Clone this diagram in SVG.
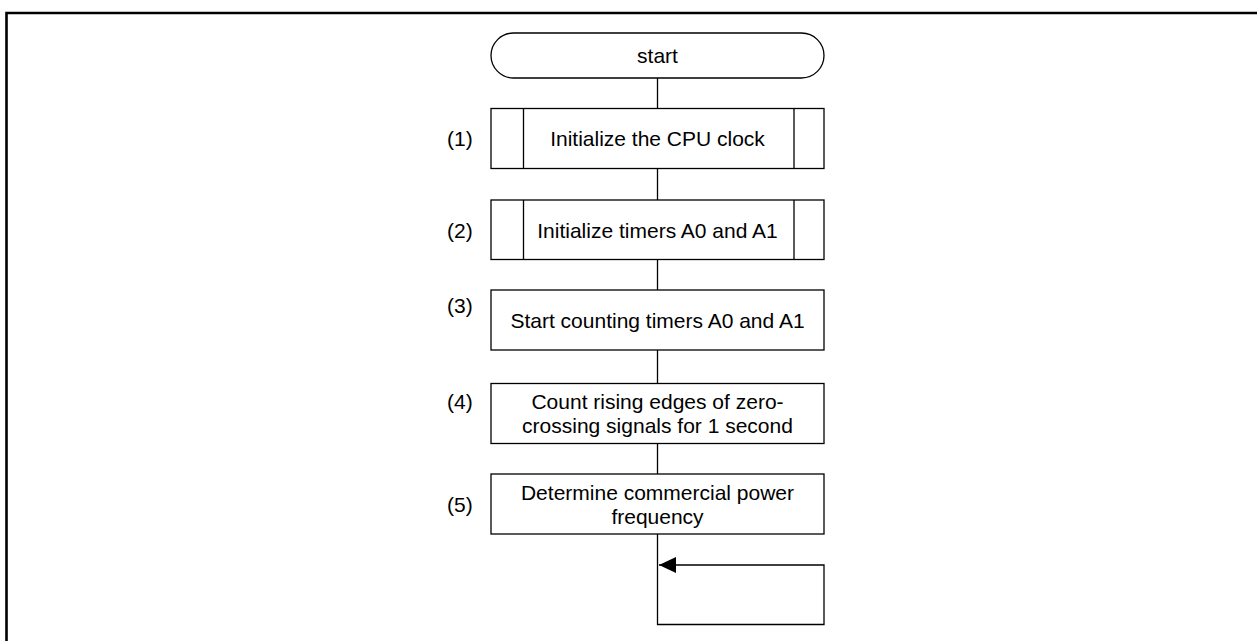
<svg xmlns="http://www.w3.org/2000/svg" width="1257" height="641" viewBox="0 0 1257 641">
  <style>
    .box { fill: #ffffff; stroke: #000000; stroke-width: 1.3; }
    .ln { fill: none; stroke: #000000; stroke-width: 1.3; }
    .t { font-family: "Liberation Sans", Arial, sans-serif; font-size: 21px; fill: #000000; text-anchor: middle; }
    .lbl { font-family: "Liberation Sans", Arial, sans-serif; font-size: 21px; fill: #000000; text-anchor: start; }
    .frame { fill: none; stroke: #000000; stroke-width: 2.6; }
  </style>
  <defs>
    <marker id="arrow" markerWidth="17" markerHeight="16" refX="17" refY="8" orient="auto" markerUnits="userSpaceOnUse">
      <path d="M0,0 L17,8 L0,16 Z" fill="#000000"/>
    </marker>
  </defs>
  <rect width="1257" height="641" fill="#ffffff"/>
  <g id="frame">
    <path class="frame" d="M6.5,641 L6.5,13 L1257,13"/>
  </g>
  <g id="connectors">
    <line class="ln" x1="657.5" y1="78" x2="657.5" y2="108.5"/>
    <line class="ln" x1="657.5" y1="168.5" x2="657.5" y2="200"/>
    <line class="ln" x1="657.5" y1="259.5" x2="657.5" y2="290"/>
    <line class="ln" x1="657.5" y1="350" x2="657.5" y2="383.5"/>
    <line class="ln" x1="657.5" y1="443.5" x2="657.5" y2="474"/>
    <polyline class="ln" points="657.5,534 657.5,624.5 824,624.5 824,565 659,565" marker-end="url(#arrow)"/>
  </g>
  <g id="start">
    <rect class="box" x="491" y="33" width="333" height="45" rx="22.5" ry="22.5"/>
    <text class="t" x="657.5" y="63">start</text>
  </g>
  <g id="step1">
    <rect class="box" x="491" y="108.5" width="333" height="60"/>
    <line class="ln" x1="523.5" y1="108.5" x2="523.5" y2="168.5"/>
    <line class="ln" x1="794" y1="108.5" x2="794" y2="168.5"/>
    <text class="t" x="657.5" y="145.5">Initialize the CPU clock</text>
    <text class="lbl" x="447" y="146">(1)</text>
  </g>
  <g id="step2">
    <rect class="box" x="491" y="200" width="333" height="59.5"/>
    <line class="ln" x1="523.5" y1="200" x2="523.5" y2="259.5"/>
    <line class="ln" x1="794" y1="200" x2="794" y2="259.5"/>
    <text class="t" x="657.5" y="237.5">Initialize timers A0 and A1</text>
    <text class="lbl" x="447" y="237.5">(2)</text>
  </g>
  <g id="step3">
    <rect class="box" x="491" y="290" width="333" height="60"/>
    <text class="t" x="657.5" y="327.5">Start counting timers A0 and A1</text>
    <text class="lbl" x="447" y="312.5">(3)</text>
  </g>
  <g id="step4">
    <rect class="box" x="491" y="383.5" width="333" height="60"/>
    <text class="t" x="657.5" y="408.5">Count rising edges of zero-</text>
    <text class="t" x="657.5" y="432.5">crossing signals for 1 second</text>
    <text class="lbl" x="447" y="409">(4)</text>
  </g>
  <g id="step5">
    <rect class="box" x="491" y="474" width="333" height="60"/>
    <text class="t" x="657.5" y="500">Determine commercial power</text>
    <text class="t" x="657.5" y="523.5">frequency</text>
    <text class="lbl" x="447" y="512">(5)</text>
  </g>
</svg>
